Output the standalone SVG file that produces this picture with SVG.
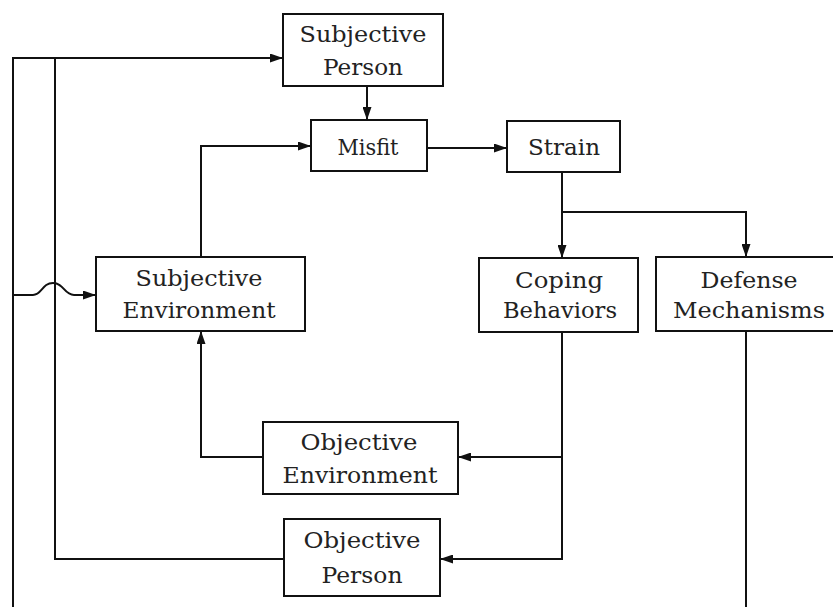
<svg xmlns="http://www.w3.org/2000/svg" width="833" height="607" viewBox="0 0 833 607">
  <style>
    .box { fill: #fff; stroke: #111; stroke-width: 2; }
    .lbl { font-family: "DejaVu Serif", "Liberation Serif", serif; font-size: 23px; fill: #222; text-anchor: middle; }
    .wire { fill: none; stroke: #111; stroke-width: 2; }
  </style>
  <defs>
    <marker id="arrow" viewBox="0 0 13 9" refX="13" refY="4.5" markerWidth="13" markerHeight="9" markerUnits="userSpaceOnUse" orient="auto">
      <path d="M0,0 L13,4.5 L0,9 Z" fill="#111"/>
    </marker>
  </defs>
  <rect width="833" height="607" fill="#fff"/>

  <g id="connectors">
    <path class="wire" d="M13,607 V58 H283" marker-end="url(#arrow)"/>
    <path class="wire" d="M55,58 V559 H284"/>
    <path class="wire" d="M13,295 H33 C42,295 42,283 53,283 C64,283 64,295 74,295 H96" marker-end="url(#arrow)"/>
    <path class="wire" d="M367,86 V120" marker-end="url(#arrow)"/>
    <path class="wire" d="M201,257 V146 H311" marker-end="url(#arrow)"/>
    <path class="wire" d="M427,148 H507" marker-end="url(#arrow)"/>
    <path class="wire" d="M562,172 V258" marker-end="url(#arrow)"/>
    <path class="wire" d="M562,212 H746 V257" marker-end="url(#arrow)"/>
    <path class="wire" d="M562,332 V559 H440" marker-end="url(#arrow)"/>
    <path class="wire" d="M562,457 H458" marker-end="url(#arrow)"/>
    <path class="wire" d="M263,457 H201 V331" marker-end="url(#arrow)"/>
    <path class="wire" d="M746,331 V607"/>
  </g>

  <g id="subjective-person">
    <rect class="box" x="283" y="14" width="160" height="72"/>
    <text class="lbl" x="363" y="42" textLength="127" lengthAdjust="spacingAndGlyphs">Subjective</text>
    <text class="lbl" x="363" y="75" textLength="80" lengthAdjust="spacingAndGlyphs">Person</text>
  </g>
  <g id="misfit">
    <rect class="box" x="311" y="120" width="116" height="51"/>
    <text class="lbl" x="368" y="155" textLength="61" lengthAdjust="spacingAndGlyphs">Misfit</text>
  </g>
  <g id="strain">
    <rect class="box" x="507" y="121" width="113" height="51"/>
    <text class="lbl" x="564" y="155" textLength="72" lengthAdjust="spacingAndGlyphs">Strain</text>
  </g>
  <g id="subjective-environment">
    <rect class="box" x="96" y="257" width="209" height="74"/>
    <text class="lbl" x="199" y="286" textLength="127" lengthAdjust="spacingAndGlyphs">Subjective</text>
    <text class="lbl" x="199" y="318" textLength="153" lengthAdjust="spacingAndGlyphs">Environment</text>
  </g>
  <g id="coping-behaviors">
    <rect class="box" x="479" y="258" width="159" height="74"/>
    <text class="lbl" x="559" y="288" textLength="88" lengthAdjust="spacingAndGlyphs">Coping</text>
    <text class="lbl" x="560" y="318" textLength="114" lengthAdjust="spacingAndGlyphs">Behaviors</text>
  </g>
  <g id="defense-mechanisms">
    <rect class="box" x="656" y="257" width="184" height="74"/>
    <text class="lbl" x="749" y="288" textLength="97" lengthAdjust="spacingAndGlyphs">Defense</text>
    <text class="lbl" x="749" y="318" textLength="152" lengthAdjust="spacingAndGlyphs">Mechanisms</text>
  </g>
  <g id="objective-environment">
    <rect class="box" x="263" y="422" width="195" height="72"/>
    <text class="lbl" x="359" y="450" textLength="117" lengthAdjust="spacingAndGlyphs">Objective</text>
    <text class="lbl" x="360" y="483" textLength="155" lengthAdjust="spacingAndGlyphs">Environment</text>
  </g>
  <g id="objective-person">
    <rect class="box" x="284" y="519" width="156" height="77"/>
    <text class="lbl" x="362" y="548" textLength="117" lengthAdjust="spacingAndGlyphs">Objective</text>
    <text class="lbl" x="362" y="583" textLength="81" lengthAdjust="spacingAndGlyphs">Person</text>
  </g>
</svg>
